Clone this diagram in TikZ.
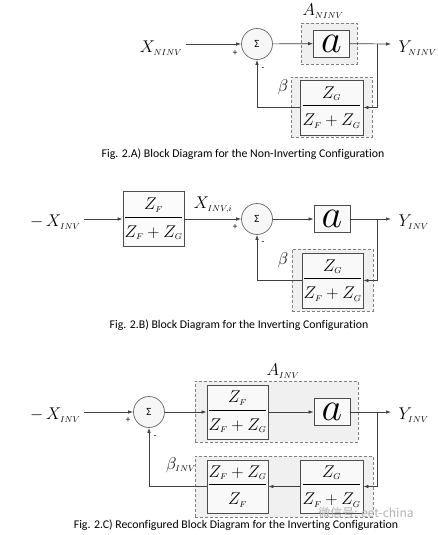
\documentclass[tikz,border=0pt]{standalone}
\usepackage{fix-cm}
\usepackage[no-math]{fontspec}
\setmainfont{Carlito}[Ligatures=NoCommon]
\newfontfamily\cjk{Noto Sans CJK SC}
\usetikzlibrary{arrows.meta}
\newcommand{\blkfrac}[2]{$\displaystyle\frac{#1}{\rule{0pt}{19pt}#2}$}
\newcommand{\smallsub}[1]{_{\scriptscriptstyle #1}}
\begin{document}
\begin{tikzpicture}[x=1pt,y=-1pt,>={Latex[length=5pt,width=3.5pt]},
    every node/.style={font=\fontsize{17}{20}\selectfont},
    wire/.style={draw=black!75,line width=0.7pt},
    blk/.style={draw=black!70,fill=gray!5,line width=0.8pt,inner sep=0pt,minimum width=61pt,minimum height=55pt},
    ablk/.style={draw=black!70,fill=gray!5,line width=0.8pt,inner sep=0pt,minimum width=36pt,minimum height=27pt,font=\fontsize{40}{40}\selectfont},
    dbox/.style={draw=gray,dash pattern=on 3pt off 2pt,fill=gray!12,line width=0.6pt,inner sep=0pt},
    sumc/.style={circle,draw=black!60,fill=gray!6,line width=0.7pt,minimum size=31pt,inner sep=0pt,font=\fontsize{11}{11}\selectfont},
    sgn/.style={font=\fontsize{9}{9}\selectfont},
    capt/.style={font=\fontsize{11.8}{13}\selectfont}]
    \useasboundingbox (0,0) rectangle (437,535);

    % Fig. 2.A
    \node [dbox,minimum width=56pt,minimum height=41pt] (dA) at (329,43.5) {};
    \node [dbox,minimum width=81pt,minimum height=60pt] (dbA) at (331.5,107) {};
    \node [] (xA) at (161,48) {$X\smallsub{NINV}$};
    \node [sumc] (sA) at (257,44) {Σ};
    \node [ablk] (aA) at (331.5,43.5) {$a$};
    \node [blk,minimum width=63pt] (fA) at (331.5,107.5) {\blkfrac{Z\smallsub{G}}{Z\smallsub{F}+Z\smallsub{G}}};
    \node [inner sep=1pt] (AA) at (323,11) {$A\smallsub{NINV}$};
    \node [] (bA) at (283,87) {$\beta$};
    \node [anchor=west] (yA) at (395,48) {$Y\smallsub{NINV}$};
    \node [sgn] (pA) at (235,53) {+};
    \node [sgn] (mA) at (263,69) {-};
    \coordinate (oA) at (391,44);
    \coordinate (jA) at (377,44);
    \draw[wire,->] (xA.east |- sA) -- (sA);
    \draw[wire,->] (sA) -- (aA);
    \draw[wire,->] (aA) -- (oA);
    \draw[wire,->] (jA) |- (fA.east);
    \draw[wire,->] (fA.west) -| (sA.south);
    \node [capt] (cA) at (243,154) {Fig. 2.A) Block Diagram for the Non-Inverting Configuration};

    % Fig. 2.B
    \node [dbox,minimum width=81pt,minimum height=62pt] (dbB) at (332.5,280) {};
    \node [anchor=east] (xB) at (84,222) {$-\,X\smallsub{INV}$};
    \node [blk,fill=gray!3] (kB) at (153.5,219) {\blkfrac{Z\smallsub{F}}{Z\smallsub{F}+Z\smallsub{G}}};
    \node [] (xiB) at (213,205) {$X\smallsub{INV,i}$};
    \node [sumc] (sB) at (257,219) {Σ};
    \node [ablk] (aB) at (332,219) {$a$};
    \node [blk] (fB) at (332.5,280.5) {\blkfrac{Z\smallsub{G}}{Z\smallsub{F}+Z\smallsub{G}}};
    \node [] (bB) at (283,260) {$\beta$};
    \node [anchor=west] (yB) at (395,222) {$Y\smallsub{INV}$};
    \node [sgn] (pB) at (235,227) {+};
    \node [sgn] (mB) at (263,243) {-};
    \coordinate (oB) at (391,219);
    \coordinate (jB) at (377,219);
    \draw[wire,->] (xB.east |- kB) -- (kB);
    \draw[wire,->] (kB) -- (sB);
    \draw[wire,->] (sB) -- (aB);
    \draw[wire,->] (aB) -- (oB);
    \draw[wire,->] (jB) |- (fB.east);
    \draw[wire,->] (fB.west) -| (sB.south);
    \node [capt] (cB) at (239,325) {Fig. 2.B) Block Diagram for the Inverting Configuration};

    % Fig. 2.C
    \node [dbox,minimum width=163pt,minimum height=61pt] (dC) at (276.5,411.5) {};
    \node [dbox,minimum width=178pt,minimum height=61pt] (dbC) at (284,486.5) {};
    \node [anchor=east] (xC) at (84,415) {$-\,X\smallsub{INV}$};
    \node [sumc] (sC) at (149,412) {Σ};
    \node [blk,minimum height=54pt] (kC) at (237.5,412) {\blkfrac{Z\smallsub{F}}{Z\smallsub{F}+Z\smallsub{G}}};
    \node [ablk] (aC) at (332,412) {$a$};
    \node [blk,minimum width=63pt,minimum height=53pt] (fC) at (331.5,486.5) {\blkfrac{Z\smallsub{G}}{Z\smallsub{F}+Z\smallsub{G}}};
    \node [blk,minimum height=53pt] (gC) at (237.5,486.5) {\blkfrac{Z\smallsub{F}+Z\smallsub{G}}{Z\smallsub{F}}};
    \node [inner sep=1pt] (AC) at (283,371) {$A\smallsub{INV}$};
    \node [] (bC) at (181,465) {$\beta\smallsub{INV}$};
    \node [anchor=west] (yC) at (395,415) {$Y\smallsub{INV}$};
    \node [sgn] (pC) at (128,420) {+};
    \node [sgn] (mC) at (155,437) {-};
    \coordinate (oC) at (391,412);
    \coordinate (jC) at (377,412);
    \draw[wire,->] (xC.east |- sC) -- (sC);
    \draw[wire,->] (sC) -- (kC);
    \draw[wire,->] (kC) -- (aC);
    \draw[wire,->] (aC) -- (oC);
    \draw[wire,->] (jC) |- (fC.east);
    \draw[wire,->] (fC) -- (gC);
    \draw[wire,->] (gC.west) -| (sC.south);
    \node [text=gray!60,font=\fontsize{12}{12}\selectfont] (wm) at (366,513) {\cjk 微信号: eet-china};
    \node [capt] (cC) at (236,525) {Fig. 2.C) Reconfigured Block Diagram for the Inverting Configuration};
\end{tikzpicture}
\end{document}
